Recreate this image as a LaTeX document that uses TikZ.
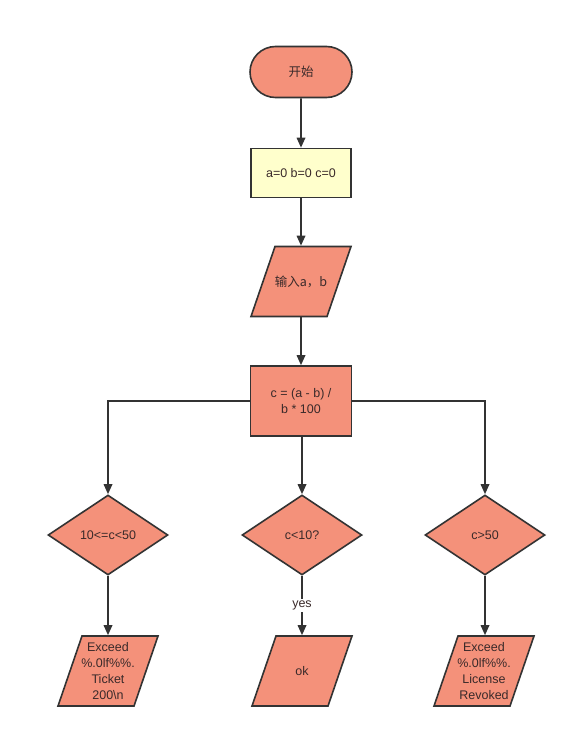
\documentclass[tikz,border=0pt]{standalone}
\usepackage{fontspec}
\setmainfont{Liberation Sans}
\newfontfamily\cjk{Noto Sans CJK SC}
\usetikzlibrary{shapes.geometric,shapes.misc,arrows.meta}
\definecolor{salmon}{HTML}{F4917A}
\definecolor{paleyellow}{HTML}{FFFFCC}
\definecolor{edge}{HTML}{333333}
\definecolor{txt}{HTML}{3A2A2A}
\tikzset{
  base/.style={draw=edge, line width=1.6pt, text=txt, font=\fontsize{12.5}{16}\selectfont, align=center, inner sep=0pt},
  term/.style={base, rounded rectangle, fill=salmon, minimum width=102pt, minimum height=51pt},
  proc/.style={base, rectangle, fill=salmon, minimum width=101pt, minimum height=70pt},
  init/.style={base, rectangle, fill=paleyellow, minimum width=100pt, minimum height=49pt},
  iotext/.style={base, draw=none, rectangle, minimum width=76pt, minimum height=70pt},
  ioshape/.style={draw=edge, line width=1.6pt, fill=salmon, line join=miter},
  dec/.style={base, diamond, fill=salmon, minimum width=120pt, minimum height=80pt, aspect=1.5},
  arr/.style={draw=edge, line width=1.7pt, -{Triangle[length=10pt,width=8.5pt]}},
  lbl/.style={fill=white, text=txt, font=\fontsize{12.5}{16}\selectfont, inner sep=2pt}
}
\newcommand{\iobox}[4]{%
  \filldraw[ioshape] (#2-26,#3-35) -- (#2+50,#3-35) -- (#2+26,#3+35) -- (#2-50,#3+35) -- cycle;
  \node[iotext] (#1) at (#2,#3) {#4};}
\begin{document}
\begin{tikzpicture}[x=1pt,y=-1pt]
\fill[white] (0,0) rectangle (576,738);
\useasboundingbox (0,0) rectangle (576,738);
\node[term] (start) at (301,72) {{\cjk 开始}};
\node[init] (init) at (301,173) {a=0 b=0 c=0};
\iobox{input}{301}{281.5}{{\cjk 输入a，b}}
\node[proc] (calc) at (301,401) {c = (a - b) /\\b * 100};
\node[dec] (d1) at (108,535) {10<=c<50};
\node[dec] (d2) at (302,535) {c<10?};
\node[dec] (d3) at (485,535) {c>50};
\iobox{o1}{108}{671}{Exceed\\\%.0lf\%\%.\\Ticket\\200\textbackslash n}
\iobox{o2}{302}{671}{ok}
\iobox{o3}{484}{671}{Exceed\\\%.0lf\%\%.\\License\\Revoked}
\draw[arr] (start) -- (init);
\draw[arr] (init) -- (input);
\draw[arr] (input) -- (calc);
\draw[arr] (calc.west) -| (d1.north);
\draw[arr] (calc.south -| d2.north) -- (d2.north);
\draw[arr] (calc.east) -| (d3.north);
\draw[arr] (d1.south) -- (o1.north -| d1.south);
\draw[arr] (d2.south) -- node[lbl, pos=0.5] {yes} (o2.north -| d2.south);
\draw[arr] (d3.south) -- (o3.north -| d3.south);
\end{tikzpicture}
\end{document}
